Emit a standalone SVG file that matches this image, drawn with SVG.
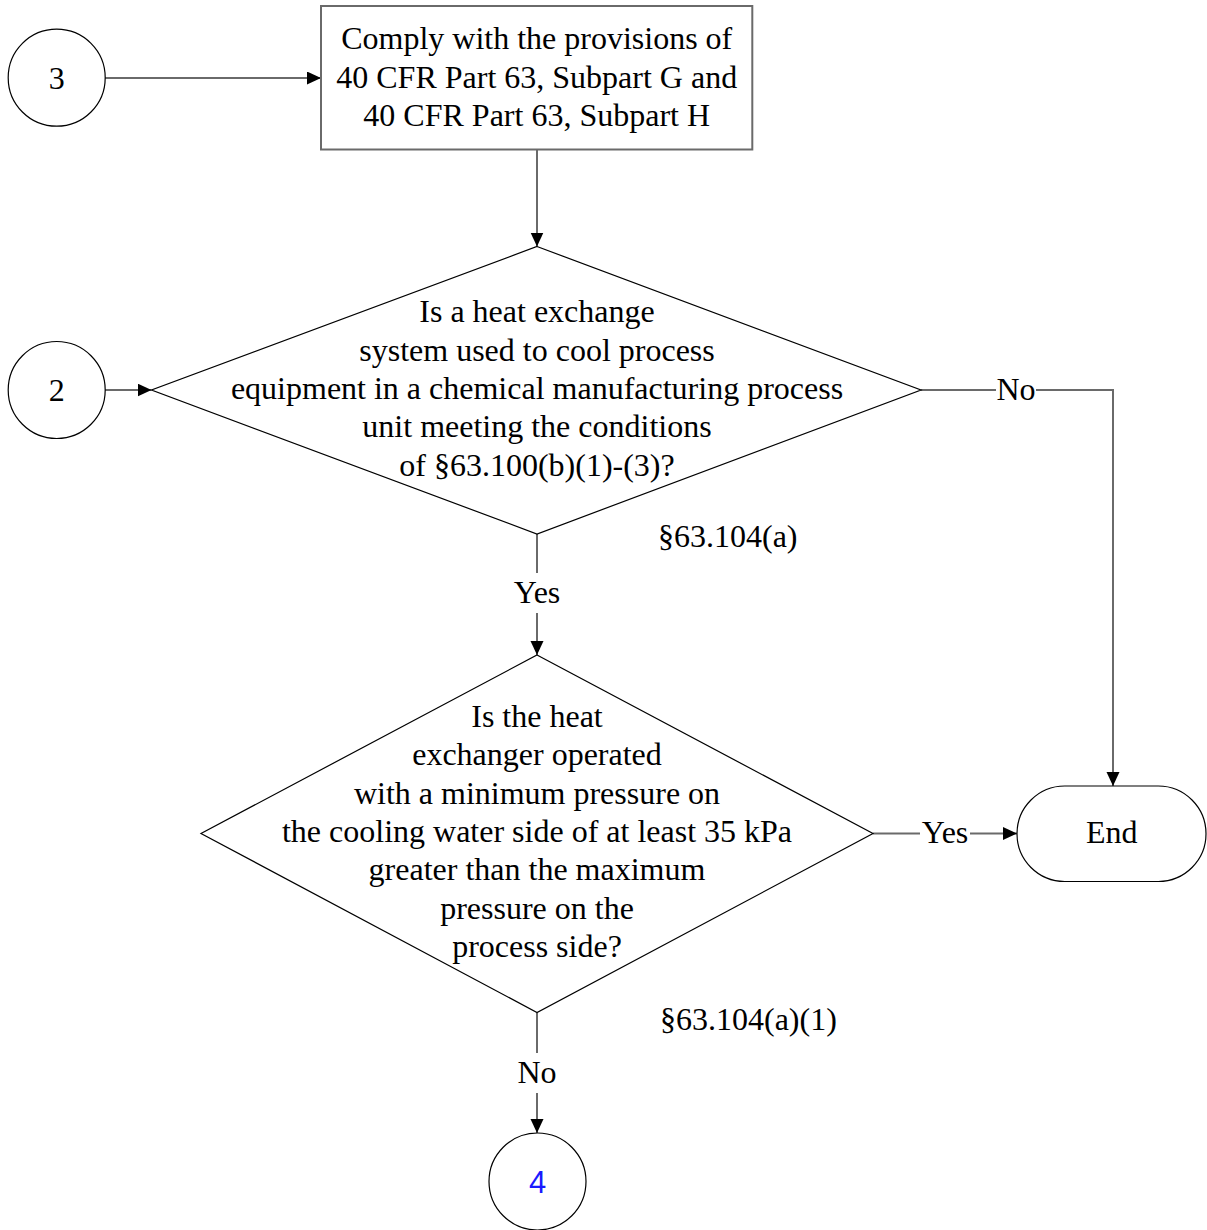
<svg xmlns="http://www.w3.org/2000/svg" width="1207" height="1230" viewBox="0 0 1207 1230">
<style>
  .shape { fill: #ffffff; stroke: #000000; stroke-width: 1.2; }
  .box { fill: #ffffff; stroke: #6a6a6a; stroke-width: 2; }
  .conn { fill: none; stroke: #6a6a6a; stroke-width: 2; }
  .t { font-family: "Liberation Serif", "Times New Roman", serif; font-size: 32px; fill: #000000; text-anchor: middle; }
  .ref { font-family: "Liberation Serif", "Times New Roman", serif; font-size: 32px; fill: #000000; text-anchor: start; }
  .blue { font-family: "Liberation Sans", Arial, sans-serif; font-size: 31px; fill: #1a1aff; text-anchor: middle; }
</style>
<defs>
  <marker id="arrow" markerUnits="userSpaceOnUse" markerWidth="16" markerHeight="14" refX="14" refY="6.5" orient="auto">
    <path d="M0,0 L14,6.5 L0,13 z" fill="#000000"/>
  </marker>
</defs>
<rect width="1207" height="1230" fill="#ffffff"/>

<g id="connectors">
  <path class="conn" d="M105,78 H321" marker-end="url(#arrow)"/>
  <path class="conn" d="M537,149.5 V246.5" marker-end="url(#arrow)"/>
  <path class="conn" d="M105,390 H151.5" marker-end="url(#arrow)"/>
  <path class="conn" d="M921,390 H996"/>
  <path class="conn" d="M1036,390 H1113 V786" marker-end="url(#arrow)"/>
  <text class="t" x="1016" y="399.5">No</text>
  <path class="conn" d="M537,534 V573"/>
  <path class="conn" d="M537,613 V655" marker-end="url(#arrow)"/>
  <text class="t" x="537" y="603">Yes</text>
  <path class="conn" d="M873,833.5 H920"/>
  <path class="conn" d="M970,833.5 H1017" marker-end="url(#arrow)"/>
  <text class="t" x="945" y="843">Yes</text>
  <path class="conn" d="M537,1012.5 V1053"/>
  <path class="conn" d="M537,1093 V1133" marker-end="url(#arrow)"/>
  <text class="t" x="537" y="1083">No</text>
</g>

<g id="node-3">
  <circle class="shape" cx="56.7" cy="77.7" r="48.5"/>
  <text class="t" x="56.7" y="89">3</text>
</g>

<g id="node-comply">
  <rect class="box" x="321" y="6" width="431.3" height="143.5"/>
  <text class="t" x="536.7" y="49.3">Comply with the provisions of</text>
  <text class="t" x="536.7" y="87.7">40 CFR Part 63, Subpart G and</text>
  <text class="t" x="536.7" y="126">40 CFR Part 63, Subpart H</text>
</g>

<g id="node-2">
  <circle class="shape" cx="56.7" cy="390" r="48.5"/>
  <text class="t" x="56.7" y="401">2</text>
</g>

<g id="node-decision-1">
  <polygon class="shape" points="537,246.5 921,390 537,534 151.5,390"/>
  <text class="t" x="537" y="322.2">Is a heat exchange</text>
  <text class="t" x="537" y="360.6">system used to cool process</text>
  <text class="t" x="537" y="399">equipment in a chemical manufacturing process</text>
  <text class="t" x="537" y="437.4">unit meeting the conditions</text>
  <text class="t" x="537" y="475.8">of §63.100(b)(1)-(3)?</text>
</g>

<g id="ref-1">
  <text class="ref" x="658" y="546.7">§63.104(a)</text>
</g>

<g id="node-decision-2">
  <polygon class="shape" points="537,655 873,833.5 537,1012.5 201,833.5"/>
  <text class="t" x="537" y="726.8">Is the heat</text>
  <text class="t" x="537" y="765.2">exchanger operated</text>
  <text class="t" x="537" y="803.6">with a minimum pressure on</text>
  <text class="t" x="537" y="842">the cooling water side of at least 35 kPa</text>
  <text class="t" x="537" y="880.4">greater than the maximum</text>
  <text class="t" x="537" y="918.8">pressure on the</text>
  <text class="t" x="537" y="957.2">process side?</text>
</g>

<g id="ref-2">
  <text class="ref" x="660" y="1029.5">§63.104(a)(1)</text>
</g>

<g id="node-end">
  <rect class="shape" x="1017" y="786" width="189" height="95.5" rx="47.7" ry="47.7"/>
  <text class="t" x="1111.7" y="843">End</text>
</g>

<g id="node-4">
  <circle class="shape" cx="537.5" cy="1181.5" r="48.5"/>
  <text class="blue" x="537.5" y="1192.5">4</text>
</g>
</svg>
